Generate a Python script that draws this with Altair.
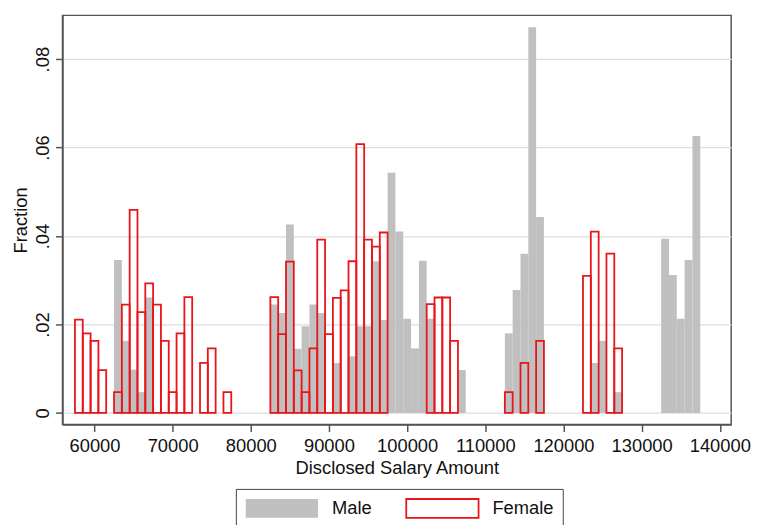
import altair as alt
import pandas as pd

# Histogram bin centres (bin width 1000) and fractions
male_centers = [63000, 64000, 65000, 66000, 67000,
                83000, 84000, 85000, 86000, 87000, 88000, 89000, 91000, 93000, 94000, 95000,
                96000, 97000, 98000, 99000, 100000, 101000, 102000, 103000, 107000,
                113000, 114000, 115000, 116000, 117000,
                124000, 125000, 127000,
                133000, 134000, 135000, 136000, 137000]
male_frac = [0.0346, 0.0163, 0.0098, 0.0047, 0.0261,
             0.0245, 0.0226, 0.0426, 0.0145, 0.0196, 0.0245, 0.0226, 0.0113, 0.0128, 0.0196, 0.0196,
             0.0343, 0.0210, 0.0543, 0.0410, 0.0213, 0.0146, 0.0344, 0.0213, 0.0097,
             0.0180, 0.0278, 0.0360, 0.0872, 0.0443,
             0.0113, 0.0163, 0.0047,
             0.0394, 0.0312, 0.0213, 0.0346, 0.0626]

female_centers = [58000, 59000, 60000, 61000, 63000, 64000, 65000, 66000, 67000, 68000,
                  69000, 70000, 71000, 72000, 74000, 75000, 77000,
                  83000, 84000, 85000, 86000, 87000, 88000, 89000, 90000, 91000, 92000,
                  93000, 94000, 95000, 96000, 97000,
                  103000, 104000, 105000, 106000,
                  113000, 115000, 117000,
                  123000, 124000, 126000, 127000]
female_frac = [0.0211, 0.0180, 0.0163, 0.0097, 0.0047, 0.0245, 0.0459, 0.0228, 0.0293, 0.0245,
               0.0163, 0.0047, 0.0180, 0.0262, 0.0113, 0.0146, 0.0047,
               0.0262, 0.0178, 0.0342, 0.0096, 0.0047, 0.0146, 0.0392, 0.0178, 0.0260, 0.0277,
               0.0343, 0.0608, 0.0392, 0.0376, 0.0408,
               0.0246, 0.0261, 0.0261, 0.0163,
               0.0047, 0.0113, 0.0163,
               0.0310, 0.0410, 0.0360, 0.0146]

groups = ["Male", "Female"]
x_ticks = [60000, 70000, 80000, 90000, 100000, 110000, 120000, 130000, 140000]
y_ticks = [0, 0.02, 0.04, 0.06, 0.08]
BIN = 1000

rows = []
for c, v in zip(male_centers, male_frac):
    rows.append({"lo": c - BIN / 2, "hi": c + BIN / 2, "frac": v, "sex": "Male"})
for c, v in zip(female_centers, female_frac):
    rows.append({"lo": c - BIN / 2, "hi": c + BIN / 2, "frac": v, "sex": "Female"})
df = pd.DataFrame(rows)

FONT = "Liberation Sans"
FS = 18.5
AXC = "#555555"

legend = alt.Legend(
    title=None, orient="none", legendX=175, legendY=478, direction="horizontal",
    symbolType="M-1,-1H6.684V1H-1Z", symbolSize=361, symbolStrokeWidth=1.8,
    labelFont=FONT, labelFontSize=FS, labelColor="#111111", labelOffset=67,
    columnPadding=30, padding=9, strokeColor="#444444",
)

chart = alt.Chart(df).mark_rect(strokeWidth=1.8).encode(
    x=alt.X("lo:Q",
            scale=alt.Scale(domain=[55906, 141457], nice=False, zero=False),
            axis=alt.Axis(values=x_ticks, format="d", title="Disclosed Salary Amount",
                          grid=False, labelFont=FONT, labelFontSize=FS, labelColor="#111111",
                          titleFont=FONT, titleFontSize=FS, titleFontWeight="normal",
                          titleColor="#111111", labelPadding=5.5, titlePadding=3.5,
                          tickSize=7, tickWidth=1.5, tickColor=AXC,
                          domainColor=AXC, domainWidth=1.5, labelFlush=False)),
    x2="hi:Q",
    y=alt.Y("frac:Q",
            scale=alt.Scale(domain=[-0.00262, 0.0899], nice=False, zero=False),
            axis=alt.Axis(values=y_ticks, title="Fraction",
                          labelExpr="datum.value == 0 ? '0' : replace(format(datum.value, '.2f'), '0.', '.')",
                          grid=True, gridColor="#dedede", gridWidth=1.2,
                          labelAngle=270, labelAlign="center", labelBaseline="alphabetic",
                          labelFont=FONT, labelFontSize=FS, labelColor="#111111",
                          titleFont=FONT, titleFontSize=FS, titleFontWeight="normal",
                          titleColor="#111111", labelPadding=7, titlePadding=3,
                          tickSize=7, tickWidth=1.5, tickColor=AXC,
                          domainColor=AXC, domainWidth=1.5, labelFlush=False)),
    y2=alt.datum(0),
    fill=alt.Fill("sex:N", scale=alt.Scale(domain=groups, range=["#c0c0c0", "transparent"]),
                  legend=legend),
    stroke=alt.Stroke("sex:N", scale=alt.Scale(domain=groups, range=["transparent", "#e8151b"]),
                      legend=legend),
).properties(
    width=675, height=413,
    autosize=alt.AutoSizeParams(type="none"),
    padding={"left": 55, "top": 5, "right": 20, "bottom": 100},
).configure_view(stroke=AXC, strokeWidth=1.5)

chart.save("out.html", embed_options={"renderer": "svg", "actions": False})
